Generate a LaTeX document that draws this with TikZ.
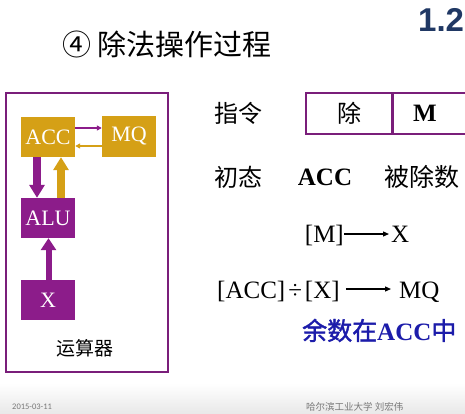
\documentclass[tikz,border=0pt]{standalone}
\usepackage{fontspec}
\setmainfont{Liberation Serif}
\newfontfamily\cjk{Noto Sans CJK SC}
\newfontfamily\cjkbold[FakeBold=1.5]{Noto Sans CJK SC}
\newfontfamily\headsans{Liberation Sans}
\newfontfamily\footsans{Carlito}
\usetikzlibrary{arrows.meta}

\definecolor{regpurple}{RGB}{140,28,138}
\definecolor{reggold}{RGB}{213,160,22}
\definecolor{framepurple}{RGB}{122,30,122}
\definecolor{titlenavy}{RGB}{32,56,100}
\definecolor{noteblue}{RGB}{28,28,170}
\definecolor{footgray}{RGB}{120,120,120}

\tikzset{
  reg/.style={minimum width=54pt, minimum height=40pt, inner sep=0pt, text=white,
              font=\fontsize{22}{22}\selectfont},
  goldreg/.style={reg, fill=reggold},
  purplereg/.style={reg, fill=regpurple},
  field/.style={draw=framepurple, line width=1.5pt, minimum height=41pt, inner sep=0pt},
  cjktext/.style={inner sep=0pt, font=\cjk\fontsize{24}{24}\selectfont},
  formula/.style={inner sep=0pt, font=\fontsize{25}{25}\selectfont},
  thinflow/.style={line width=1.5pt, -{Triangle[length=5pt,width=5pt]}},
  busflow/.style={-{Triangle[length=13pt,width=15pt]}},
  textarrow/.style={line width=1.2pt, -{Triangle[length=6pt,width=5pt]}},
}

\begin{document}
\begin{tikzpicture}[x=1pt,y=-1pt]
  \useasboundingbox (0,0) rectangle (465,414);
  \fill[white] (0,0) rectangle (465,414);
  % footer band
  \shade[top color=white, bottom color=black!9] (0,383) rectangle (465,414);

  % heading
  \node[anchor=west, inner sep=0pt, font=\cjk\fontsize{29}{29}\selectfont] (title) at (62,44) {④ 除法操作过程};
  \node[anchor=base west, inner sep=0pt, text=titlenavy,
        font=\headsans\bfseries\fontsize{33}{33}\selectfont] (chap) at (418,32) {1.2};

  % arithmetic unit frame
  \draw[framepurple, line width=2pt] (6,93) rectangle (168,372);
  \node[goldreg] (acc) at (48,137) {ACC};
  \node[goldreg, minimum height=41pt] (mq) at (129,136.5) {MQ};
  \node[purplereg] (alu) at (48,218) {ALU};
  \node[purplereg] (x) at (48,300) {X};
  \node[inner sep=0pt, font=\cjk\fontsize{19}{19}\selectfont] (unit) at (85,348) {运算器};

  % data paths
  \draw[thinflow, regpurple] (acc.east |- 0,128) -- (mq.west |- 0,128);
  \draw[thinflow, reggold] (mq.west |- 0,146) -- (acc.east |- 0,146);
  \draw[busflow, regpurple, line width=7.5pt] (acc.south -| 37,0) -- (alu.north -| 37,0);
  \draw[busflow, reggold, line width=8pt] (alu.north -| 61,0) -- (acc.south -| 61,0);
  \draw[regpurple, line width=6pt, -{Triangle[length=12pt,width=15pt]}] (x.north -| 48.5,0) -- (alu.south -| 48.5,0);

  % instruction format
  \node[cjktext] (instr) at (238,113) {指令};
  \node[field, minimum width=86pt, font=\cjk\fontsize{24}{24}\selectfont] (op) at (349,113.5) {除};
  \node[field, anchor=west, minimum width=90pt] (addr) at (op.east) {};
  \node[inner sep=0pt, font=\bfseries\fontsize{25}{25}\selectfont] (addrm) at (425,113.5) {M};

  % initial state
  \node[cjktext] (init) at (238,177) {初态};
  \node[inner sep=0pt, font=\bfseries\fontsize{25}{25}\selectfont] (accinit) at (325,177) {ACC};
  \node[inner sep=0pt, font=\cjk\fontsize{25}{25}\selectfont] (dividend) at (422,177) {被除数};

  % transfers
  \node[formula, anchor=base east] (mref) at (344,242) {[M]};
  \node[formula, anchor=base west] (xdst) at (391,242) {X};
  \draw[textarrow] (mref.east |- 0,234) -- ([xshift=-2pt]xdst.west |- 0,234);

  \node[formula, anchor=base west] (divexpr) at (217,298) {[ACC]\hspace{3pt}÷\hspace{3pt}[X]};
  \node[formula, anchor=base west] (mqdst) at (399,298) {MQ};
  \draw[textarrow] ([xshift=6pt]divexpr.east |- 0,289) -- ([xshift=-8pt]mqdst.west |- 0,289);

  \node[anchor=base west, inner sep=0pt, text=noteblue] (remainder) at (302,340)
    {\cjkbold\fontsize{25}{25}\selectfont 余数在{\rmfamily\bfseries ACC}中};

  % footer
  \node[anchor=west, inner sep=0pt, text=footgray, font=\footsans\fontsize{8.5}{9}\selectfont] (date) at (12,407) {2015-03-11};
  \node[anchor=west, inner sep=0pt, text=footgray, font=\cjk\fontsize{9.5}{10}\selectfont] (author) at (306,407) {哈尔滨工业大学 刘宏伟};
\end{tikzpicture}
\end{document}
